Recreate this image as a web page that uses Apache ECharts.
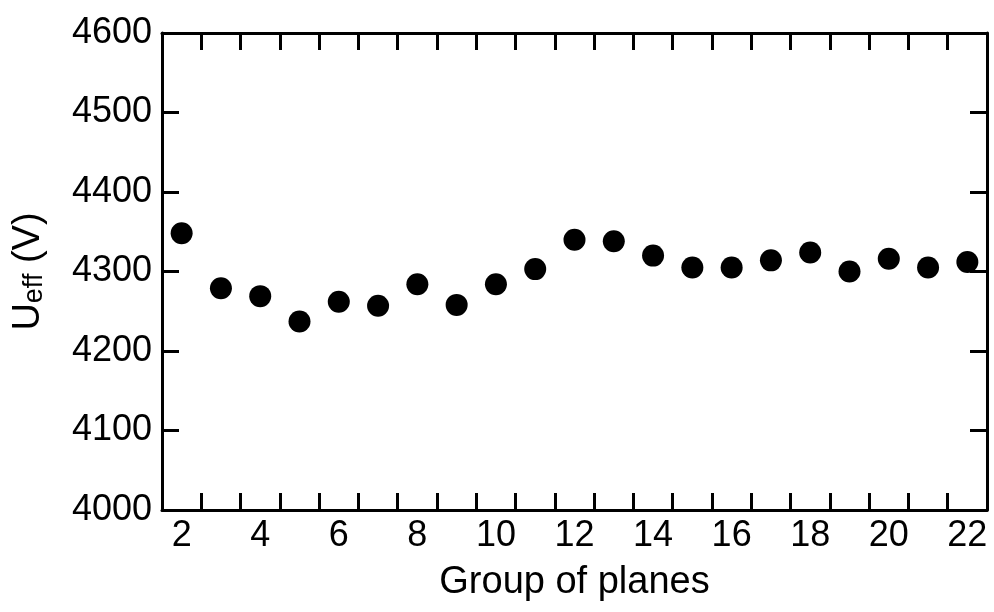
<!DOCTYPE html>
<html>
<head>
<meta charset="utf-8">
<script src="https://cdn.jsdelivr.net/npm/echarts@6/dist/echarts.min.js"></script>
<style>html,body{margin:0;padding:0;background:#fff}#c{width:994px;height:612px}</style>
</head>
<body>
<div id="c"></div>
<script>
const groups = [2,3,4,5,6,7,8,9,10,11,12,13,14,15,16,17,18,19,20,21,22];
const ueff = [4348,4279,4269,4237,4262,4257,4284,4258,4284,4303,4340,4338,4320,4305,4305,4314,4324,4300,4316,4305,4312];
const xLabelValues = [2,4,6,8,10,12,14,16,18,20,22];
const xTickValues = [2.5,3.5,4.5,5.5,6.5,7.5,8.5,9.5,10.5,11.5,12.5,13.5,14.5,15.5,16.5,17.5,18.5,19.5,20.5,21.5];
const yTickValues = [4100,4200,4300,4400,4500];

const FONT = '"Liberation Sans", Arial, Helvetica, sans-serif';
const lineStyle = {color:'#000', width:3};
const tickStyle = {color:'#000', width:3};

const chart = echarts.init(document.getElementById('c'), null, {renderer:'canvas'});
chart.setOption({
  animation:false,
  backgroundColor:'#fff',
  grid:{left:162, right:7, top:33, bottom:102, containLabel:false},
  xAxis:[{
    type:'value', position:'bottom', min:1.5, max:22.5,
    name:'Group of planes', nameLocation:'middle', nameGap:54,
    nameTextStyle:{fontFamily:FONT, fontSize:38, color:'#000'},
    axisLine:{show:true, lineStyle:lineStyle},
    axisTick:{show:true, inside:true, length:17, lineStyle:tickStyle, customValues:xTickValues},
    axisLabel:{show:true, margin:8, fontFamily:FONT, fontSize:36, color:'#000', customValues:xLabelValues,
      formatter:(v)=>String(v)},
    splitLine:{show:false}
  },{
    type:'value', position:'top', min:1.5, max:22.5,
    axisLine:{show:true, lineStyle:lineStyle},
    axisTick:{show:true, inside:true, length:17, lineStyle:tickStyle, customValues:xTickValues},
    axisLabel:{show:false},
    splitLine:{show:false}
  }],
  yAxis:[{
    type:'value', position:'left', min:4000, max:4600, interval:100,
    name:'{u|U}{s|eff}{u| (V)}', nameLocation:'middle', nameRotate:90, nameGap:114,
    nameTextStyle:{fontFamily:FONT, color:'#000',
      rich:{
        u:{fontFamily:FONT, fontSize:38, lineHeight:38, color:'#000', verticalAlign:'bottom'},
        s:{fontFamily:FONT, fontSize:27, lineHeight:22, color:'#000', verticalAlign:'bottom'}
      }},
    axisLine:{show:true, lineStyle:lineStyle},
    axisTick:{show:true, inside:true, length:17, lineStyle:tickStyle, customValues:yTickValues},
    axisLabel:{show:true, margin:10, fontFamily:FONT, fontSize:36, color:'#000',
      formatter:(v)=>String(v)},
    splitLine:{show:false}
  },{
    type:'value', position:'right', min:4000, max:4600, interval:100,
    axisLine:{show:true, lineStyle:lineStyle},
    axisTick:{show:true, inside:true, length:17, lineStyle:tickStyle, customValues:yTickValues},
    axisLabel:{show:false},
    splitLine:{show:false}
  }],
  series:[{
    type:'scatter', xAxisIndex:0, yAxisIndex:0,
    symbol:'circle', symbolSize:22,
    itemStyle:{color:'#000', opacity:1},
    data: groups.map((g,i)=>[g, ueff[i]])
  }]
});
</script>
</body>
</html>
